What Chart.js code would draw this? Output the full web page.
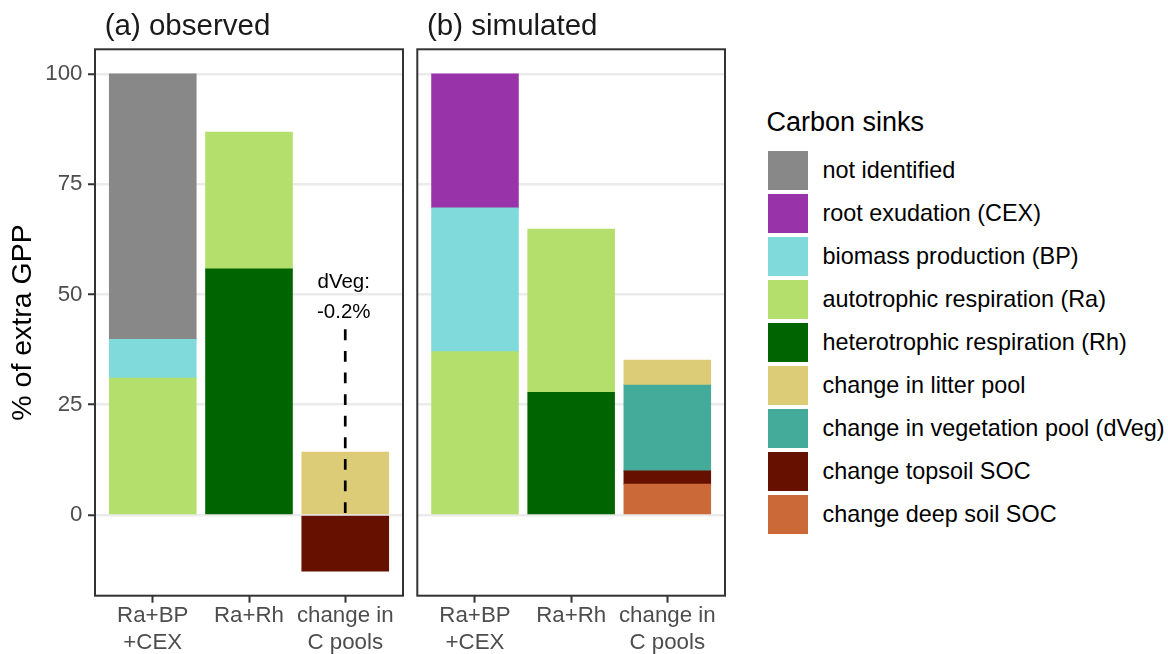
<!DOCTYPE html>
<html>
<head>
<meta charset="utf-8">
<script src="https://cdn.jsdelivr.net/npm/chart.js@4.4.1/dist/chart.umd.min.js"></script>
<style>
  html, body { margin: 0; padding: 0; background: #ffffff; }
  #wrap { position: relative; width: 1168px; height: 654px; overflow: hidden; background: #ffffff;
          font-family: "Liberation Sans", Arial, Helvetica, sans-serif; }
  #cA { position: absolute; left: 0; top: 0; }
  #cB { position: absolute; left: 410px; top: 0; }
  .lg-title { position: absolute; left: 766.5px; top: 109px; font-size: 27px; color: #000; white-space: nowrap; line-height: 1; }
  .lg-key { position: absolute; left: 768px; width: 40px; height: 39px; }
  .lg-lab { position: absolute; left: 822.5px; height: 39px; display: flex; align-items: center;
            font-size: 23.4px; color: #000; white-space: nowrap; }
</style>
</head>
<body>
<div id="wrap">
  <canvas id="cA" width="410" height="654"></canvas>
  <canvas id="cB" width="320" height="654"></canvas>
  <div id="legend"></div>
</div>
<script>
// ---------- data ----------
const categories = [["Ra+BP", "+CEX"], ["Ra+Rh"], ["change in", "C pools"]];
const categoryPos = [1, 2, 3];
const yTicks = [0, 25, 50, 75, 100];
const panelTitles = ["(a) observed", "(b) simulated"];
const yTitle = "% of extra GPP";
const legendTitle = "Carbon sinks";

// legend order (top to bottom)
const sinkNames = [
  "not identified",
  "root exudation (CEX)",
  "biomass production (BP)",
  "autotrophic respiration (Ra)",
  "heterotrophic respiration (Rh)",
  "change in litter pool",
  "change in vegetation pool (dVeg)",
  "change topsoil SOC",
  "change deep soil SOC"
];
const sinkColors = [
  "#888888", "#9933AA", "#80D9DA", "#B4DF6C", "#006400",
  "#DDCC77", "#44AA99", "#661100", "#CC6939"
];

// (a) observed, values per category
const obsNotIdentified = [60.2, null, null];
const obsCEX           = [null, null, null];
const obsBP            = [8.8, null, null];
const obsRa            = [31.0, 31.0, null];
const obsRh            = [null, 55.8, null];
const obsLitter        = [null, null, 14.2];
const obsVeg           = [null, null, null];
const obsTopsoil       = [null, null, -12.7];
const obsDeep          = [null, null, null];
const obsVegChange     = -0.2;          // shown as annotation
const obsVegAnnotTop   = 42.1;

// (b) simulated, values per category
const simNotIdentified = [null, null, null];
const simCEX           = [30.4, null, null];
const simBP            = [32.6, null, null];
const simRa            = [37.0, 37.0, null];
const simRh            = [null, 27.8, null];
const simLitter        = [null, null, 5.7];
const simVeg           = [null, null, 19.4];
const simTopsoil       = [null, null, 3.0];
const simDeep          = [null, null, 7.0];

// ---------- helpers ----------
const FONT = '"Liberation Sans", Arial, Helvetica, sans-serif';
Chart.defaults.font.family = FONT;

function makeDatasets(series) {
  // series in legend order; stack bottom-up = reverse legend order
  const ds = [];
  for (let k = series.length - 1; k >= 0; k--) {
    ds.push({
      label: sinkNames[k],
      data: categoryPos.map((x, i) => ({ x: x, y: series[k][i] })),
      backgroundColor: sinkColors[k],
      borderWidth: 0,
      inflateAmount: 0.5,
      stack: "s",
      categoryPercentage: 1.0,
      barPercentage: 0.9
    });
  }
  return ds;
}

const panelDecor = {
  id: "panelDecor",
  afterDraw(chart, args, opts) {
    const { ctx, chartArea: a } = chart;
    ctx.save();
    ctx.strokeStyle = "#333333";
    ctx.lineWidth = 2;
    ctx.strokeRect(a.left, a.top, a.right - a.left, a.bottom - a.top);
    ctx.fillStyle = "#1A1A1A";
    ctx.font = "29.5px " + FONT;
    ctx.textAlign = "left";
    ctx.textBaseline = "alphabetic";
    ctx.fillText(opts.title, a.left + 9.7, 35);
    ctx.restore();
  }
};

const vegAnnot = {
  id: "vegAnnot",
  afterDatasetsDraw(chart, args, opts) {
    if (!opts.show) return;
    const { ctx } = chart;
    const xs = chart.scales.x, ys = chart.scales.y;
    const x = xs.getPixelForValue(categoryPos[2]);
    const y1 = ys.getPixelForValue(opts.top);
    const y2 = ys.getPixelForValue(0);
    ctx.save();
    ctx.strokeStyle = "#000000";
    ctx.lineWidth = 2.7;
    ctx.setLineDash([10.8, 10.8]);
    ctx.beginPath();
    ctx.moveTo(x, y1);
    ctx.lineTo(x, y2);
    ctx.stroke();
    ctx.setLineDash([]);
    ctx.fillStyle = "#000000";
    ctx.font = "20.5px " + FONT;
    ctx.textAlign = "center";
    ctx.textBaseline = "alphabetic";
    const txt = opts.value.toFixed(1) + "%";
    ctx.fillText("dVeg:", x - 1.5, y1 - 41.5);
    ctx.fillText(txt, x - 1.5, y1 - 11.5);
    ctx.restore();
  }
};

function makePanel(canvasId, series, showY, title, padRight, yWidth, annot) {
  return new Chart(document.getElementById(canvasId), {
    type: "bar",
    data: { datasets: makeDatasets(series) },
    plugins: [panelDecor, vegAnnot],
    options: {
      responsive: false,
      animation: false,
      devicePixelRatio: 1,
      layout: { autoPadding: false, padding: { top: 49.3, right: padRight, left: 0, bottom: 0 } },
      plugins: {
        legend: { display: false },
        tooltip: { enabled: false },
        title: { display: false },
        panelDecor: { title: title },
        vegAnnot: annot
      },
      scales: {
        x: {
          type: "linear",
          min: 0.4, max: 3.6,
          bounds: "data",
          offset: false,
          stacked: true,
          afterBuildTicks: s => { s.ticks = categoryPos.map(v => ({ value: v })); },
          afterFit: s => { s.height = 58.3; },
          grid: { display: true, offset: false, drawOnChartArea: false, drawTicks: true, tickLength: 7,
                  tickColor: "#333333", tickWidth: 2, color: "#333333" },
          border: { display: false },
          ticks: {
            autoSkip: false, maxRotation: 0, minRotation: 0, padding: 0,
            color: "#4D4D4D", font: { size: 22.3, lineHeight: 1.2 },
            callback: v => categories[categoryPos.indexOf(v)]
          }
        },
        y: {
          type: "linear",
          min: -18.3, max: 105.6,
          bounds: "data",
          stacked: true,
          afterBuildTicks: s => { s.ticks = yTicks.map(v => ({ value: v })); },
          afterFit: s => { s.width = yWidth; },
          grid: { color: "#EBEBEB", lineWidth: 2.5, drawTicks: showY, tickLength: 7,
                  tickColor: "#333333", tickWidth: 2 },
          border: { display: false },
          ticks: { display: showY, padding: 5.5, color: "#4D4D4D", font: { size: 22.3 } },
          title: { display: showY, text: yTitle, color: "#000000",
                   font: { size: 28.5 }, padding: { top: 6.5, bottom: 0 } }
        }
      }
    }
  });
}

const obsSeries = [obsNotIdentified, obsCEX, obsBP, obsRa, obsRh, obsLitter, obsVeg, obsTopsoil, obsDeep];
const simSeries = [simNotIdentified, simCEX, simBP, simRa, simRh, simLitter, simVeg, simTopsoil, simDeep];

makePanel("cA", obsSeries, true, panelTitles[0], 7, 95,
          { show: true, top: obsVegAnnotTop, value: obsVegChange });
makePanel("cB", simSeries, false, panelTitles[1], 5, 7.3, { show: false });

// ---------- legend ----------
const lg = document.getElementById("legend");
const t = document.createElement("div");
t.className = "lg-title";
t.textContent = legendTitle;
lg.appendChild(t);
sinkNames.forEach((name, i) => {
  const top = 150.7 + i * 43;
  const k = document.createElement("div");
  k.className = "lg-key";
  k.style.top = top + "px";
  k.style.background = sinkColors[i];
  lg.appendChild(k);
  const l = document.createElement("div");
  l.className = "lg-lab";
  l.style.top = top + "px";
  l.textContent = name;
  lg.appendChild(l);
});
</script>
</body>
</html>
